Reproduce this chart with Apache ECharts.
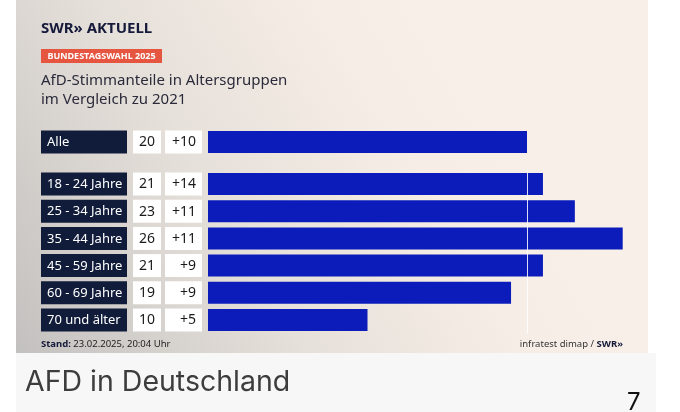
<!DOCTYPE html>
<html>
<head>
<meta charset="utf-8">
<script src="https://cdn.jsdelivr.net/npm/echarts@6/dist/echarts.min.js"></script>
<style>
html,body{margin:0;padding:0;background:#ffffff;}
#c{width:680px;height:412px;}
</style>
</head>
<body>
<div id="c"></div>
<script>
// ---- data ----
var allLabels = ['Alle'];
var allShare = [20];
var allChange = ['+10'];

var ageLabels = ['18 - 24 Jahre', '25 - 34 Jahre', '35 - 44 Jahre', '45 - 59 Jahre', '60 - 69 Jahre', '70 und älter'];
var ageShare = [21, 23, 26, 21, 19, 10];
var ageChange = ['+14', '+11', '+11', '+9', '+9', '+5'];

var referenceValue = 20;

// ---- styles ----
var NAVY = '#111c3b';
var BLUE = '#0b1cbb';
var FONT = '"Noto Sans", "Open Sans", sans-serif';

function labelAxes(gridIndex, labels, shares, changes) {
  var base = {
    gridIndex: gridIndex,
    type: 'category',
    data: labels,
    inverse: true,
    position: 'left',
    axisLine: { show: false },
    axisTick: { show: false },
    splitLine: { show: false }
  };
  return [
    Object.assign({}, base, {
      offset: 81,
      axisLabel: {
        interval: 0, margin: 0,
        formatter: function (v) { return '{a|' + v + '}'; },
        rich: { a: { width: 74, height: 22, lineHeight: 22, padding: [1, 6, 0, 6], backgroundColor: NAVY, color: '#ffffff', fontSize: 13, fontFamily: FONT, align: 'left' } }
      }
    }),
    Object.assign({}, base, {
      offset: 47,
      axisLabel: {
        interval: 0, margin: 0,
        formatter: function (v, i) { return '{a|' + shares[i] + '}'; },
        rich: { a: { width: 28, height: 22, lineHeight: 22, padding: [1, 0, 0, 0], backgroundColor: '#ffffff', color: '#1a1a1a', fontSize: 14, fontFamily: FONT, align: 'center' } }
      }
    }),
    Object.assign({}, base, {
      offset: 6,
      axisLabel: {
        interval: 0, margin: 0,
        formatter: function (v, i) { return '{a|' + changes[i] + '}'; },
        rich: { a: { width: 31, height: 22, lineHeight: 22, padding: [1, 6, 0, 0], backgroundColor: '#ffffff', color: '#1a1a1a', fontSize: 14, fontFamily: FONT, align: 'right' } }
      }
    })
  ];
}

var chart = echarts.init(document.getElementById('c'), null, { renderer: 'canvas' });

var option = {
  animation: false,
  backgroundColor: '#ffffff',
  graphic: [
    {
      type: 'rect', z: -10, silent: true,
      shape: { x: 16, y: 0, width: 632, height: 353 },
      style: {
        fill: new echarts.graphic.LinearGradient(0, 1, 0.75, 0.2, [
          { offset: 0, color: '#c3c1bf' },
          { offset: 0.45, color: '#e6e0da' },
          { offset: 0.8, color: '#f6eee6' },
          { offset: 1, color: '#f8f0e8' }
        ])
      }
    },
    {
      type: 'rect', z: -10, silent: true,
      shape: { x: 16, y: 353, width: 640, height: 59 },
      style: { fill: '#f7f7f7' }
    },
    {
      type: 'text', left: 41, top: 21,
      style: { text: 'SWR» AKTUELL', font: 'bold 15px ' + FONT, fill: '#15193a' }
    },
    {
      type: 'rect',
      shape: { x: 41, y: 49, width: 121, height: 14 },
      style: { fill: '#e5553f' }
    },
    {
      type: 'text', x: 101.5, y: 56.5,
      style: { text: 'BUNDESTAGSWAHL 2025', font: 'bold 9px ' + FONT, fill: '#ffffff', align: 'center', verticalAlign: 'middle' }
    },
    {
      type: 'text', x: 41, y: 81,
      style: { text: 'AfD-Stimmanteile in Altersgruppen', font: '15px ' + FONT, fill: '#2a2a3a', verticalAlign: 'middle' }
    },
    {
      type: 'text', x: 41, y: 100,
      style: { text: 'im Vergleich zu 2021', font: '15px ' + FONT, fill: '#2a2a3a', verticalAlign: 'middle' }
    },
    {
      type: 'text', x: 41, y: 344,
      style: {
        text: '{b|Stand:} 23.02.2025, 20:04 Uhr', font: '9.5px ' + FONT, fill: '#222222', verticalAlign: 'middle',
        rich: { b: { fontWeight: 'bold', fontSize: 9.5, fontFamily: FONT, fill: '#15193a' } }
      }
    },
    {
      type: 'text', x: 623, y: 344,
      style: {
        text: 'infratest dimap / {b|SWR»}', font: '9.5px ' + FONT, fill: '#333333', align: 'right', verticalAlign: 'middle',
        rich: { b: { fontWeight: 'bold', fontSize: 9.5, fontFamily: FONT, fill: '#15193a' } }
      }
    },
    {
      type: 'text', x: 25, y: 382.5,
      style: { text: 'AFD in Deutschland', font: '28.5px Inter, "Noto Sans", sans-serif', fill: '#3d3d3d', verticalAlign: 'middle' }
    },
    {
      type: 'text', x: 627, y: 403,
      style: { text: '7', font: '24px Inter, "Noto Sans", sans-serif', fill: '#111111', verticalAlign: 'middle' }
    }
  ],
  grid: [
    { left: 208, right: 25.4, top: 128.4, height: 27.2, containLabel: false },
    { left: 208, right: 25.4, top: 170.4, height: 163.2, containLabel: false }
  ],
  xAxis: [
    { gridIndex: 0, type: 'value', min: 0, max: 28, show: false },
    { gridIndex: 1, type: 'value', min: 0, max: 28, show: false }
  ],
  yAxis: [].concat(
    labelAxes(0, allLabels, allShare, allChange),
    labelAxes(1, ageLabels, ageShare, ageChange)
  ),
  series: [
    {
      type: 'bar', xAxisIndex: 0, yAxisIndex: 0,
      data: allShare, barWidth: 22,
      itemStyle: { color: BLUE }, silent: true
    },
    {
      type: 'bar', xAxisIndex: 1, yAxisIndex: 3,
      data: ageShare, barWidth: 22,
      itemStyle: { color: BLUE }, silent: true,
      markLine: {
        silent: true, symbol: 'none', label: { show: false },
        lineStyle: { color: 'rgba(255,255,255,0.85)', width: 1, type: 'solid' },
        data: [{ xAxis: referenceValue }]
      }
    }
  ]
};
chart.setOption(option);
</script>
</body>
</html>
